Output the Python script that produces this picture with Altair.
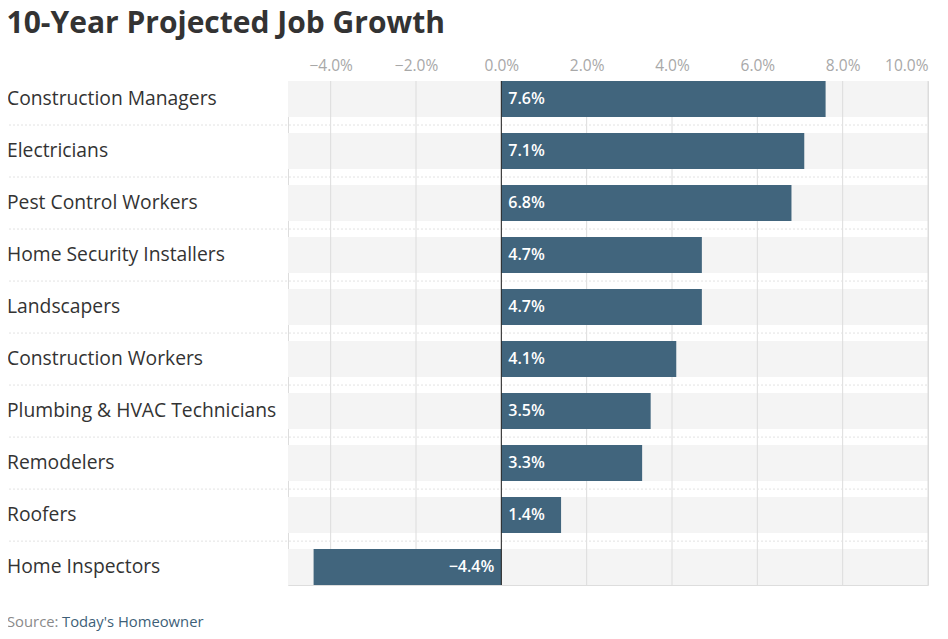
import altair as alt
import pandas as pd

categories = ["Construction Managers", "Electricians", "Pest Control Workers",
              "Home Security Installers", "Landscapers", "Construction Workers",
              "Plumbing & HVAC Technicians", "Remodelers", "Roofers", "Home Inspectors"]
values = [7.6, 7.1, 6.8, 4.7, 4.7, 4.1, 3.5, 3.3, 1.4, -4.4]
ticks = [-4, -2, 0, 2, 4, 6, 8, 10]
x_min, x_max = -5, 10

df = pd.DataFrame({"cat": categories, "v": values})
df["lo"] = x_min
df["hi"] = x_max
df["label"] = [("\u2212" if v < 0 else "") + f"{abs(v):.1f}%" for v in values]
ticks_df = pd.DataFrame({"t": ticks})
sep_df = pd.DataFrame({"cat": categories[1:]})
src_df = pd.DataFrame({"a": ["Source: "], "b": ["Today's Homeowner"]})

FONT = "Open Sans"
xscale = alt.Scale(domain=[x_min, x_max], nice=False, zero=False)
yscale = alt.Scale(domain=categories, paddingInner=0.31, paddingOuter=0)

y_enc = alt.Y("cat:N", scale=yscale, axis=None, sort=categories)

bands = alt.Chart(df).mark_bar(color="#f4f4f4").encode(
    x=alt.X("lo:Q", scale=xscale,
            axis=alt.Axis(orient="top", values=ticks, grid=False, domain=False,
                          ticks=False, labelPadding=8, labelFontSize=15.5,
                          labelColor="#a8a8a8", labelFont=FONT,
                          labelExpr="format(datum.value/100, '.1%')"),
            title=None),
    x2="hi:Q",
    y=y_enc,
)

grid = alt.Chart(ticks_df).mark_rule(color="#dcdcdc", strokeWidth=1).encode(
    x=alt.X("t:Q", scale=xscale)
)

seps = alt.Chart(sep_df).mark_rule(color="#e2e2e2", strokeDash=[2, 2], yOffset=-8).encode(
    y=alt.Y("cat:N", scale=yscale, axis=None, sort=categories, bandPosition=0),
    x=alt.value(-283),
    x2=alt.value(640),
)

bars = alt.Chart(df).mark_bar(color="#41657d").encode(
    x=alt.X("v:Q", scale=xscale),
    x2=alt.datum(0),
    y=y_enc,
)

zero = alt.Chart(ticks_df).transform_filter("datum.t == 0").mark_rule(
    color="#222222", strokeWidth=1).encode(
    x=alt.X("t:Q", scale=xscale)
)

pos_labels = alt.Chart(df).transform_filter("datum.v >= 0").mark_text(
    align="left", baseline="middle", dx=7, color="white", fontWeight=600,
    fontSize=16, font=FONT).encode(
    x=alt.datum(0, scale=xscale), y=y_enc, text="label:N"
)

neg_labels = alt.Chart(df).transform_filter("datum.v < 0").mark_text(
    align="right", baseline="middle", dx=-7, color="white", fontWeight=600,
    fontSize=16, font=FONT).encode(
    x=alt.datum(0, scale=xscale), y=y_enc, text="label:N"
)

cat_labels = alt.Chart(df).mark_text(
    align="left", baseline="middle", fontSize=19.3, color="#333333", font=FONT).encode(
    x=alt.value(-281), y=y_enc, text="cat:N"
)

src_a = alt.Chart(src_df).mark_text(
    align="left", baseline="middle", fontSize=14.8, color="#8a8a8a", font=FONT).encode(
    x=alt.value(-281), y=alt.value(542), text="a:N"
)
src_b = alt.Chart(src_df).mark_text(
    align="left", baseline="middle", fontSize=14.8, color="#3e5f78", font=FONT).encode(
    x=alt.value(-226), y=alt.value(542), text="b:N"
)

chart = alt.layer(
    bands, grid, seps, bars, zero, pos_labels, neg_labels, cat_labels, src_a, src_b
).properties(
    width=640,
    height=504,
    autosize=alt.AutoSizeParams(type="none"),
    padding={"left": 280, "top": 73, "right": 12, "bottom": 46},
    title=alt.TitleParams(
        "10-Year Projected Job Growth", anchor="start", dx=2, fontSize=30,
        font=FONT, fontWeight="bold", color="#333333", offset=19),
).configure_view(stroke=None).configure(background="white")

chart.save("out.html", embed_options={"renderer": "svg", "actions": False})
